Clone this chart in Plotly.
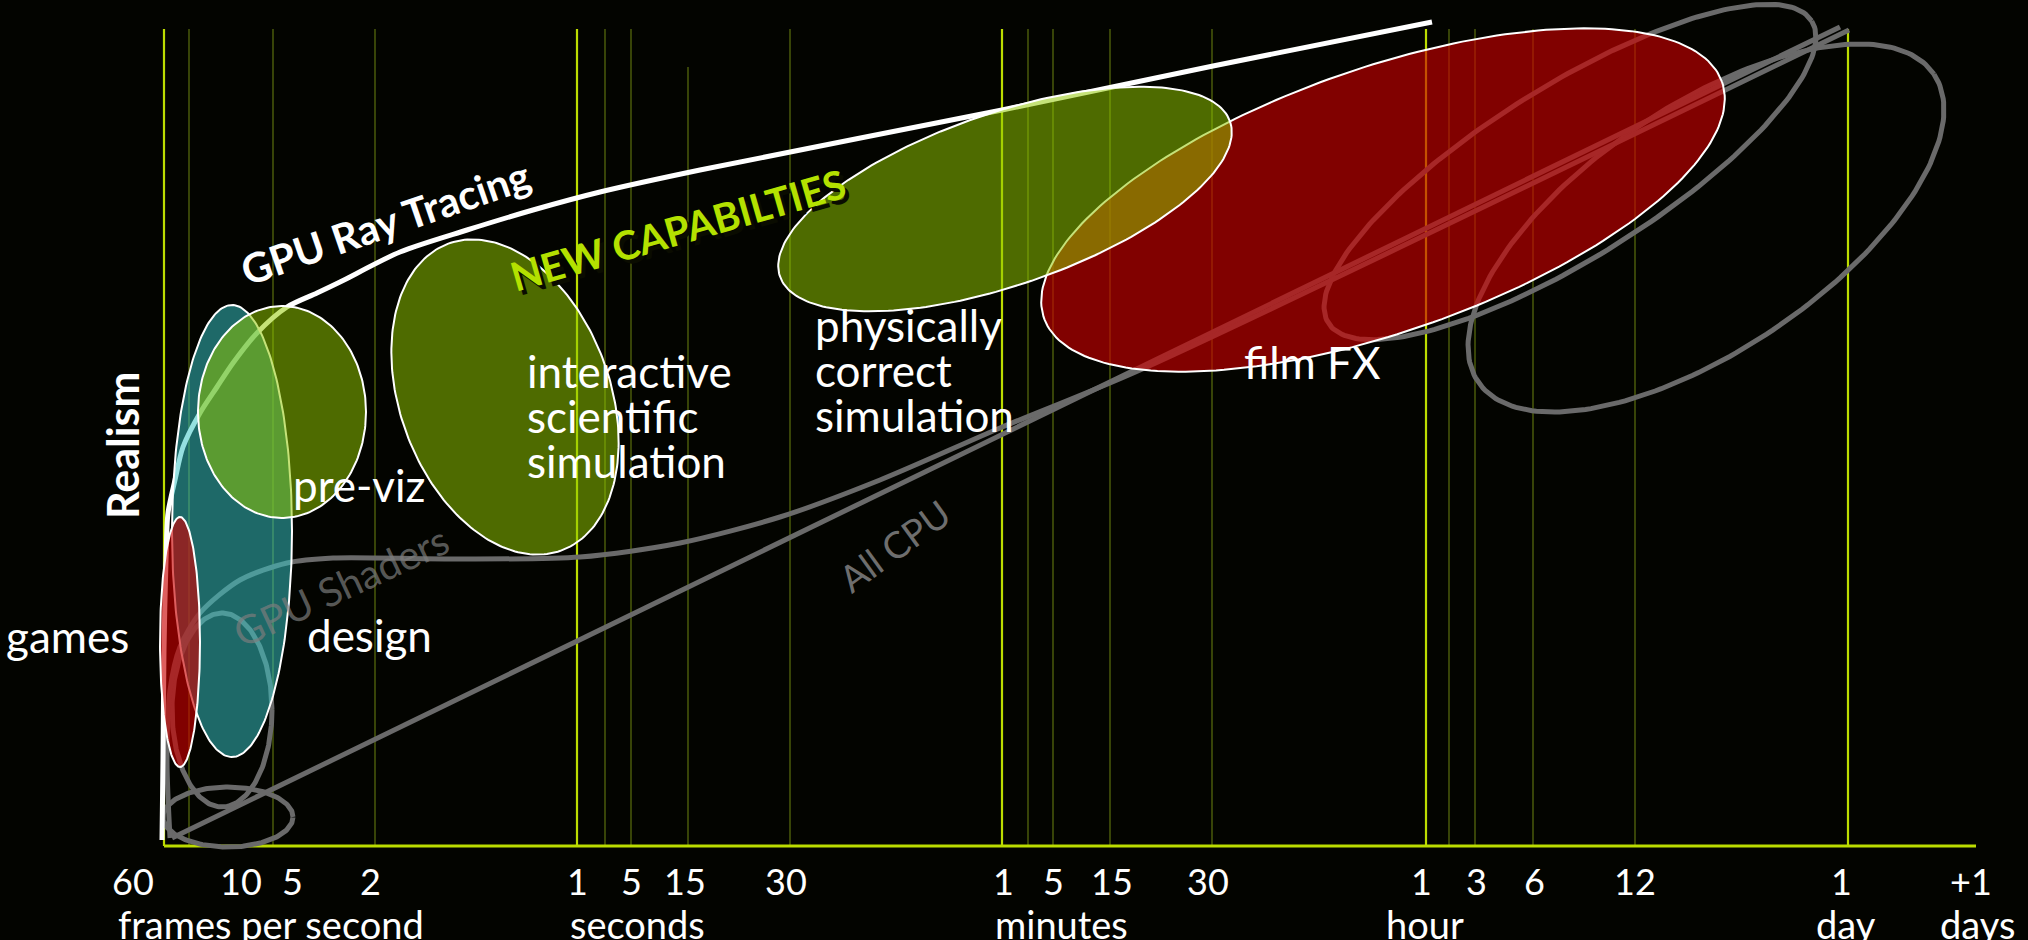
import numpy as np
import plotly.graph_objects as go

# ---------------------------------------------------------------------------
# Render-time scale (x) against realism (y).  One unit is drawn as one pixel,
# x = 0 is the 60 fps guide and y = 0 is the time axis.
# ---------------------------------------------------------------------------
major_marks = [0, 413, 838, 1262, 1684]          # 60 fps, 1 s, 1 min, 1 h, 1 day
minor_marks = [25, 109, 211, 441, 467, 626, 864, 889, 946, 1048, 1285, 1311, 1369, 1471]
short_marks = [524]
mark_top = 817
short_top = 779
axis_end = 1812

tick_pos = [-31, 77, 128, 206, 413, 467, 521, 622, 839, 889, 948, 1044,
            1257, 1312, 1370, 1471, 1677, 1807]
tick_text = ["60", "10", "5", "2", "1", "5", "15", "30", "1", "5", "15", "30",
             "1", "3", "6", "12", "1", "+1"]
unit_pos = [107, 473, 897, 1261, 1682, 1813]
unit_text = ["frames per second", "seconds", "minutes", "hour", "day", "days"]

# GPU ray tracing frontier
ray_x = [-2, -1, 0, 2, 4, 11, 19, 36, 53, 69, 93, 123, 153, 176, 236, 303, 369, 436, 536, 838, 1049, 1268]
ray_y = [6, 86, 196, 286, 333, 366, 399, 433, 459, 483, 513, 539, 553, 564, 594, 616, 636, 654, 676, 736, 780, 824]

# GPU shaders path
shader_x = [6, 3, 6, 16, 36, 76, 123, 169, 286, 416, 516, 616, 716, 836, 976, 1685]
shader_y = [8, 86, 156, 199, 233, 266, 283, 288, 287, 289, 303, 329, 366, 418, 476, 816]

# all-CPU path
cpu_x = [8, 1676]
cpu_y = [8, 819]

# gray loops: centre x, centre y, semi-axis a, semi-axis b, tilt (deg)
loop_cx = [64, 58, 1406, 1542]
loop_cy = [29, 136, 674, 618]
loop_a = [65, 50, 285, 275]
loop_b = [30, 97, 86, 122]
loop_tilt = [0, 0, 32, 34]

# application domains: centre x, centre y, semi-axis a, semi-axis b, tilt (deg)
domain_names = ["design", "games", "pre-viz", "interactive scientific simulation",
                "film FX", "physically correct simulation"]
domain_cx = [68, 16, 118, 341, 1219, 841]
domain_cy = [315, 204, 434, 449, 646, 647]
domain_a = [60, 20, 84, 163.5, 359, 238]
domain_b = [226, 125, 106, 105, 132, 86]
domain_tilt = [0, 0, 0, 110.3, 19.2, 19]

TEAL = "rgba(55,196,196,0.53)"
RED = "rgba(202,0,0,0.63)"
GREEN = "rgba(146,200,0,0.53)"
domain_fill = {"design": TEAL, "games": RED, "pre-viz": GREEN,
               "interactive scientific simulation": GREEN,
               "film FX": RED, "physically correct simulation": GREEN}

BRIGHT = "#bcdc00"
DIM = "#46560a"
GRAY = "#6a6a6a"
FONT = "Lato"


def ellipse(cx, cy, a, b, tilt, n=240):
    t = np.linspace(0, 2 * np.pi, n)
    p = np.radians(tilt)
    x = cx + a * np.cos(t) * np.cos(p) - b * np.sin(t) * np.sin(p)
    y = cy + a * np.cos(t) * np.sin(p) + b * np.sin(t) * np.cos(p)
    return x, y


def guides(xs, top):
    gx, gy = [], []
    for x in xs:
        gx += [x, x, None]
        gy += [0, top, None]
    return gx, gy


fig = go.Figure()

# vertical guides and time axis
for xs, top, col, w in [(minor_marks, mark_top, DIM, 1.6), (short_marks, short_top, DIM, 1.6),
                        (major_marks, mark_top, BRIGHT, 2.2)]:
    gx, gy = guides(xs, top)
    fig.add_trace(go.Scatter(x=gx, y=gy, mode="lines", line=dict(color=col, width=w),
                             hoverinfo="skip"))
fig.add_trace(go.Scatter(x=[0, axis_end], y=[0, 0], mode="lines",
                         line=dict(color=BRIGHT, width=3), hoverinfo="skip"))

# gray loops and paths
for cx, cy, a, b, tl in zip(loop_cx, loop_cy, loop_a, loop_b, loop_tilt):
    ex, ey = ellipse(cx, cy, a, b, tl)
    fig.add_trace(go.Scatter(x=ex, y=ey, mode="lines", line=dict(color=GRAY, width=5),
                             hoverinfo="skip"))
fig.add_trace(go.Scatter(x=cpu_x, y=cpu_y, mode="lines", line=dict(color=GRAY, width=5),
                         hoverinfo="skip"))
fig.add_trace(go.Scatter(x=shader_x, y=shader_y, mode="lines",
                         line=dict(color=GRAY, width=5, shape="spline", smoothing=0.8),
                         hoverinfo="skip"))

# GPU ray tracing frontier
fig.add_trace(go.Scatter(x=ray_x, y=ray_y, mode="lines",
                         line=dict(color="white", width=5, shape="spline", smoothing=0.8),
                         hoverinfo="skip"))

# application domains
for name, cx, cy, a, b, tl in zip(domain_names, domain_cx, domain_cy, domain_a, domain_b, domain_tilt):
    ex, ey = ellipse(cx, cy, a, b, tl)
    fig.add_trace(go.Scatter(x=ex, y=ey, mode="lines", fill="toself",
                             fillcolor=domain_fill[name],
                             line=dict(color="white", width=2), hoverinfo="skip"))

ann = []


def label(text, x, y, size, color="white", anchor="left", angle=0, bold=False):
    ann.append(dict(x=x, y=y, text=f"<b>{text}</b>" if bold else text, showarrow=False,
                    xanchor=anchor, yanchor="middle", textangle=angle,
                    font=dict(family=FONT, size=size, color=color)))


for x, t in zip(tick_pos, tick_text):
    label(t, x, -35, 36, anchor="center")
for x, t in zip(unit_pos, unit_text):
    label(t, x, -78, 38, anchor="center")

label("games", -160, 210, 44)
label("design", 141, 211, 44)
label("pre-viz", 127, 361, 44)
for t, y in zip(["interactive", "scientific", "simulation"], [475, 430, 385]):
    label(t, 361, y, 44)
for t, y in zip(["physically", "correct", "simulation"], [521, 476, 431]):
    label(t, 649, y, 44)
label("film FX", 1078, 484, 44)

label("Realism", -42, 401, 43, anchor="center", angle=-90, bold=True)
label("GPU Ray Tracing", 221, 624, 41, anchor="center", angle=-19, bold=True)
label("NEW CAPABILTIES", 518, 612, 40, color="#0a0c00", anchor="center", angle=-16, bold=True)
label("NEW CAPABILTIES", 514, 616, 40, color="#b4e100", anchor="center", angle=-16, bold=True)
label("GPU Shaders", 177, 260, 40, color="rgba(125,125,125,0.7)", anchor="center", angle=-25)
label("All CPU", 730, 301, 37, color="#6e6e6e", anchor="center", angle=-36)

fig.update_layout(
    width=2028, height=940,
    margin=dict(l=0, r=0, t=0, b=0),
    paper_bgcolor="#030400", plot_bgcolor="#030400",
    showlegend=False,
    xaxis=dict(range=[-164, 1864], visible=False, fixedrange=True),
    yaxis=dict(range=[-94, 846], visible=False, fixedrange=True),
    annotations=ann,
)

fig.write_html("out.html")
